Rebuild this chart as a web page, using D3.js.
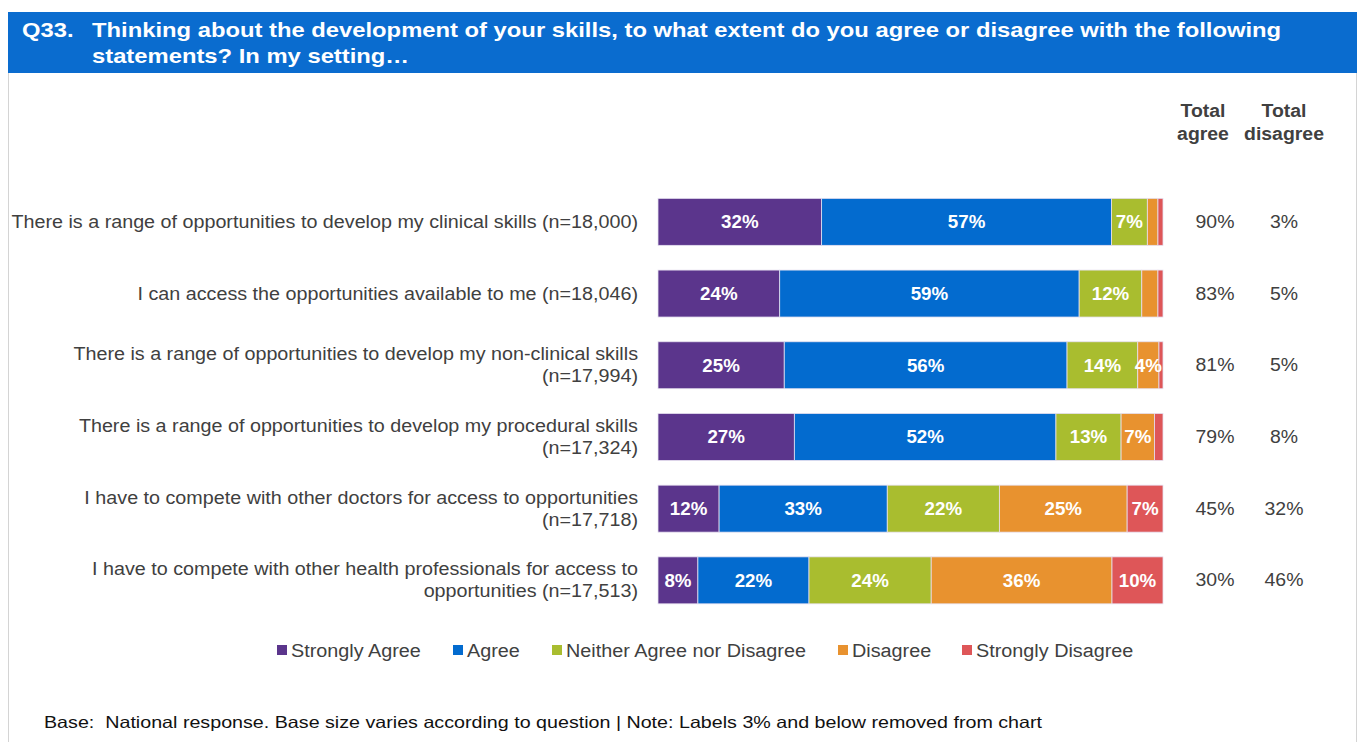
<!DOCTYPE html>
<html>
<head>
<meta charset="utf-8">
<script src="https://cdn.jsdelivr.net/npm/d3@7"></script>
<style>
  html, body { margin: 0; padding: 0; background: #fff; }
  svg { display: block; font-family: "Liberation Sans", Arial, sans-serif; }
  text { white-space: pre; }
</style>
</head>
<body>
<svg id="chart" width="1363" height="742"></svg>
<script>
// ---------- data ----------
const categories = [
  ["There is a range of opportunities to develop my clinical skills (n=18,000)"],
  ["I can access the opportunities available to me (n=18,046)"],
  ["There is a range of opportunities to develop my non-clinical skills", "(n=17,994)"],
  ["There is a range of opportunities to develop my procedural skills", "(n=17,324)"],
  ["I have to compete with other doctors for access to opportunities", "(n=17,718)"],
  ["I have to compete with other health professionals for access to", "opportunities (n=17,513)"]
];
const seriesNames = ["Strongly Agree", "Agree", "Neither Agree nor Disagree", "Disagree", "Strongly Disagree"];
const stronglyAgree    = [32.4, 24.1, 25.0, 27.0, 12.1, 7.9];
const agree            = [57.4, 59.3, 56.0, 51.8, 33.3, 22.0];
const neither          = [7.1, 12.4, 14.0, 12.9, 22.2, 24.2];
const disagree         = [2.1, 3.2, 4.2, 6.6, 25.3, 35.8];
const stronglyDisagree = [1.0, 1.0, 0.8, 1.7, 7.1, 10.1];
const totalAgree    = ["90%", "83%", "81%", "79%", "45%", "30%"];
const totalDisagree = ["3%", "5%", "5%", "8%", "32%", "46%"];
const colors = ["#5b358c", "#036bcf", "#a9bd2f", "#e8922f", "#de5658"];

const titleNum = "Q33.";
const titleLines = ["Thinking about the development of your skills, to what extent do you agree or disagree with the following",
                    "statements? In my setting\u2026"];
const footnote = "Base:  National response. Base size varies according to question | Note: Labels 3% and below removed from chart";

// ---------- helpers ----------
// the reference's text is horizontally stretched; widen glyphs by a factor
function stretch(sel, f) {
  sel.each(function () {
    const w = this.getComputedTextLength();
    d3.select(this).attr("textLength", w * f).attr("lengthAdjust", "spacingAndGlyphs");
  });
  return sel;
}

// ---------- drawing ----------
const svg = d3.select("#chart");

// frame
svg.append("rect").attr("x", 8.5).attr("y", 12.5).attr("width", 1348).attr("height", 740)
  .attr("fill", "none").attr("stroke", "#d4d4d4").attr("stroke-width", 1);

// header band
svg.append("rect").attr("x", 8).attr("y", 12).attr("width", 1349).attr("height", 61).attr("fill", "#0a6ccf");
const ttl = svg.append("g").attr("fill", "#fff").attr("font-weight", "bold").attr("font-size", 20.5);
stretch(ttl.append("text").attr("x", 22).attr("y", 37).text(titleNum), 1.16);
titleLines.forEach((t, i) => stretch(ttl.append("text").attr("x", 92).attr("y", 37 + i * 26).text(t), 1.16));

const series = [stronglyAgree, agree, neither, disagree, stronglyDisagree];
const rows = categories.map((c, i) => {
  const r = { idx: i };
  seriesNames.forEach((s, k) => r[s] = series[k][i]);
  return r;
});
const stacked = d3.stack().keys(seriesNames)(rows);

const x = d3.scaleLinear().domain([0, 100]).range([658, 1163]);
const y = d3.scaleBand().domain(d3.range(categories.length)).range([186, 616.2])
  .paddingInner(0.345).paddingOuter(0.1725);

const layers = svg.append("g").selectAll("g").data(stacked).join("g")
  .attr("fill", (d, i) => colors[i]);
layers.selectAll("rect").data(d => d).join("rect")
  .attr("x", d => x(d[0]))
  .attr("y", (d, i) => y(i))
  .attr("width", d => x(d[1]) - x(d[0]))
  .attr("height", y.bandwidth())
  .attr("stroke", "#e6e0f0").attr("stroke-width", 0.8);

// segment labels
const lbl = svg.append("g").attr("fill", "#fff").attr("font-weight", "bold").attr("font-size", 18)
  .attr("text-anchor", "middle");
stacked.forEach(layer => {
  layer.forEach((d, i) => {
    const v = d[1] - d[0];
    if (Math.round(v) > 3) {
      stretch(lbl.append("text")
        .attr("x", (x(d[0]) + x(d[1])) / 2)
        .attr("y", y(i) + y.bandwidth() / 2 + 6.5)
        .text(Math.round(v) + "%"), 1.04);
    }
  });
});

// category labels
const cat = svg.append("g").attr("fill", "#404040").attr("font-size", 17.5).attr("text-anchor", "end");
categories.forEach((lines, i) => {
  const cy = y(i) + y.bandwidth() / 2;
  lines.forEach((t, j) => {
    const off = lines.length === 1 ? 6 : (j === 0 ? -5 : 17);
    stretch(cat.append("text").attr("x", 638).attr("y", cy + off).text(t), 1.127);
  });
});

// totals
const tot = svg.append("g").attr("fill", "#404040").attr("font-size", 17.5).attr("text-anchor", "middle");
const colA = 1203, colD = 1284;
[["Total", colA, 117], ["agree", colA, 140], ["Total", colD, 117], ["disagree", colD, 140]].forEach(h => {
  stretch(tot.append("text").attr("x", h[1]).attr("y", h[2]).attr("font-weight", "bold").text(h[0]), 1.11);
});
categories.forEach((c, i) => {
  const cy = y(i) + y.bandwidth() / 2 + 6;
  stretch(tot.append("text").attr("x", 1215).attr("y", cy).text(totalAgree[i]), 1.11);
  stretch(tot.append("text").attr("x", colD).attr("y", cy).text(totalDisagree[i]), 1.11);
});

// legend
const legX = [277, 453, 552, 838, 962];
const leg = svg.append("g");
seriesNames.forEach((s, k) => {
  leg.append("rect").attr("x", legX[k]).attr("y", 645).attr("width", 10).attr("height", 10).attr("fill", colors[k]);
  stretch(leg.append("text").attr("x", legX[k] + 14).attr("y", 657).attr("font-size", 18)
    .attr("fill", "#404040").text(s), 1.10);
});

// footnote
const fn = svg.append("text").attr("x", 44).attr("y", 728).attr("font-size", 16.5).attr("fill", "#111").text(footnote);
fn.attr("textLength", 998).attr("lengthAdjust", "spacingAndGlyphs");
</script>
</body>
</html>
